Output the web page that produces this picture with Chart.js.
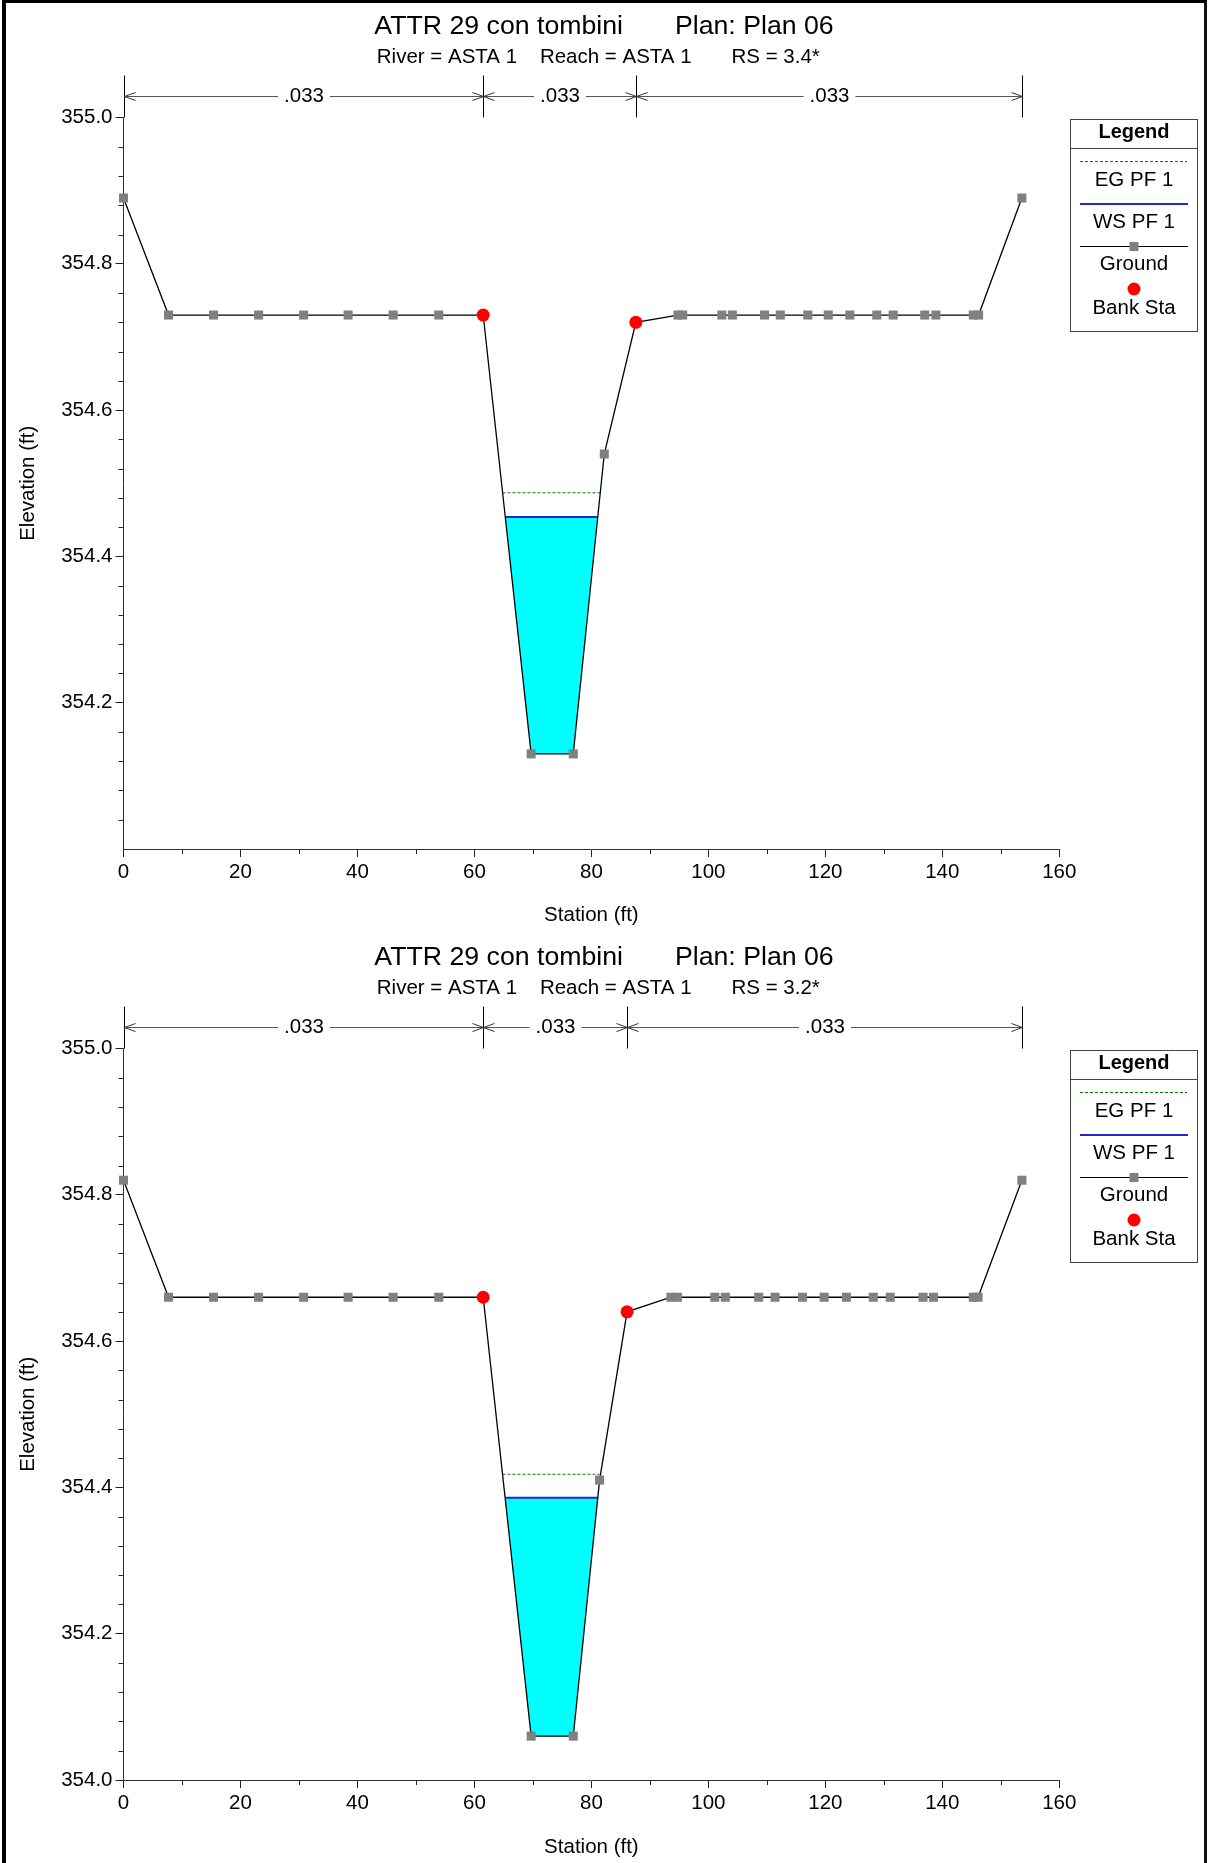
<!DOCTYPE html>
<html>
<head>
<meta charset="utf-8">
<script src="https://cdn.jsdelivr.net/npm/chart.js@4/dist/chart.umd.min.js"></script>
<style>
  html, body { margin: 0; padding: 0; background: #fff; }
  #page { position: relative; width: 1208px; height: 1863px; overflow: hidden; background: #fff; }
  #page canvas { position: absolute; left: 0; }
  #frame { position: absolute; left: 2px; top: 0; width: 1205px; height: 1863px; box-sizing: border-box;
           border-left: 4px solid #000; border-top: 3px solid #000; border-right: 3px solid #111; pointer-events: none; }
</style>
</head>
<body>
<div id="page">
  <canvas id="chartTop" width="1208" height="931" style="top:0px"></canvas>
  <canvas id="chartBottom" width="1208" height="932" style="top:931px"></canvas>
  <div id="frame"></div>
</div>
<script>
// ---------- shared texts and ticks ----------
const chartTitle = 'ATTR 29 con tombini       Plan: Plan 06';
const riverReachText = 'River = ASTA 1    Reach = ASTA 1       RS = ';
const xTickValues = [0, 20, 40, 60, 80, 100, 120, 140, 160];
const xMinorTickValues = [10, 30, 50, 70, 90, 110, 130, 150];
const yTickValues = [354.0, 354.2, 354.4, 354.6, 354.8, 355.0];
const legendLabels = ['EG PF 1', 'WS PF 1', 'Ground', 'Bank Sta'];
const xAxisTitle = 'Station (ft)';
const yAxisTitle = 'Elevation (ft)';

// ---------- cross section RS = 3.4* ----------
const rsTop = '3.4*';
const groundStaTop  = [0, 7.7, 15.4, 23.1, 30.8, 38.4, 46.1, 53.9, 61.5, 69.7, 76.9, 82.2, 87.6,
                       94.8, 95.6, 102.3, 104.1, 109.6, 112.3, 117.0, 120.5, 124.2, 128.8, 131.6, 137.0, 138.9, 145.3, 146.2, 153.6];
const groundElevTop = [354.89, 354.73, 354.73, 354.73, 354.73, 354.73, 354.73, 354.73, 354.73, 354.13, 354.13, 354.54, 354.72,
                       354.73, 354.73, 354.73, 354.73, 354.73, 354.73, 354.73, 354.73, 354.73, 354.73, 354.73, 354.73, 354.73, 354.73, 354.73, 354.89];
const bankStaTop  = [61.5, 87.6];
const bankElevTop = [354.73, 354.72];
const wsElevTop = 354.454;
const wsStaTop  = [65.3, 81.1];
const egElevTop = 354.487;
const egStaTop  = [64.8, 81.6];
const nStaTop   = [0, 61.5, 87.6, 153.6];
const nValTop   = ['.033', '.033', '.033'];

// ---------- cross section RS = 3.2* ----------
const rsBottom = '3.2*';
const groundStaBottom  = [0, 7.7, 15.4, 23.1, 30.8, 38.4, 46.1, 53.9, 61.5, 69.7, 76.9, 81.4, 86.1,
                          93.6, 94.7, 101.1, 102.9, 108.6, 111.4, 116.1, 119.8, 123.6, 128.2, 131.1, 136.7, 138.5, 145.3, 146.1, 153.6];
const groundElevBottom = [354.82, 354.66, 354.66, 354.66, 354.66, 354.66, 354.66, 354.66, 354.66, 354.06, 354.06, 354.41, 354.64,
                          354.66, 354.66, 354.66, 354.66, 354.66, 354.66, 354.66, 354.66, 354.66, 354.66, 354.66, 354.66, 354.66, 354.66, 354.66, 354.82];
const bankStaBottom  = [61.5, 86.1];
const bankElevBottom = [354.66, 354.64];
const wsElevBottom = 354.386;
const wsStaBottom  = [65.3, 81.1];
const egElevBottom = 354.418;
const egStaBottom  = [64.8, 81.4];
const nStaBottom   = [0, 61.5, 86.1, 153.6];
const nValBottom   = ['.033', '.033', '.033'];

// ---------- styling ----------
const FAMILY = "'Liberation Sans', Arial, Helvetica, sans-serif";
const COLOR_EG = '#008000';
const COLOR_WS = '#2424d8';
const COLOR_WATER = '#00ffff';
const COLOR_GROUND = '#000000';
const COLOR_POINT = '#808080';
const COLOR_BANK = '#ff0000';

Chart.defaults.font.family = FAMILY;
Chart.defaults.color = '#000';

function pairs(xs, ys) { return xs.map((x, i) => ({ x: x, y: ys[i] })); }
function flat(xs, y) { return xs.map(x => ({ x: x, y: y })); }

const decorPlugin = {
  id: 'decor',
  afterDraw(chart, args, opts) {
    const ctx = chart.ctx;
    const xs = chart.scales.x, ys = chart.scales.y;
    const area = chart.chartArea;
    ctx.save();

    // minor ticks
    ctx.strokeStyle = '#222';
    ctx.lineWidth = 1;
    ctx.beginPath();
    for (let i = 1; i < 25; i++) {
      if (i % 5 === 0) continue;
      const py = Math.round(ys.getPixelForValue(354 + i * 0.04)) + 0.5;
      ctx.moveTo(area.left - 5, py); ctx.lineTo(area.left, py);
    }
    xMinorTickValues.forEach(v => {
      const px = Math.round(xs.getPixelForValue(v)) + 0.5;
      ctx.moveTo(px, area.bottom); ctx.lineTo(px, area.bottom + 5);
    });
    ctx.stroke();

    // Manning's n bracket line
    const nTop = 75.5, nY = 96.5;
    const sta = opts.nSta, vals = opts.nVal;
    const pxs = sta.map(s => Math.round(xs.getPixelForValue(s)) + 0.5);
    ctx.strokeStyle = '#000';
    ctx.beginPath();
    pxs.forEach(px => { ctx.moveTo(px, nTop); ctx.lineTo(px, area.top); });
    ctx.stroke();

    ctx.font = '20.5px ' + FAMILY;
    ctx.textAlign = 'center';
    ctx.textBaseline = 'middle';
    ctx.fillStyle = '#000';
    ctx.strokeStyle = '#555';
    ctx.beginPath();
    for (let i = 0; i < vals.length; i++) {
      const x1 = pxs[i], x2 = pxs[i + 1];
      const mid = (x1 + x2) / 2;
      const w = ctx.measureText(vals[i]).width;
      ctx.moveTo(x1, nY); ctx.lineTo(mid - w / 2 - 6, nY);
      ctx.moveTo(mid + w / 2 + 6, nY); ctx.lineTo(x2, nY);
    }
    ctx.stroke();
    for (let i = 0; i < vals.length; i++) {
      ctx.fillText(vals[i], (pxs[i] + pxs[i + 1]) / 2, nY);
    }
    ctx.strokeStyle = '#333';
    ctx.beginPath();
    pxs.forEach((px, j) => {
      if (j < pxs.length - 1) { ctx.moveTo(px + 11, nY - 4); ctx.lineTo(px, nY); ctx.lineTo(px + 11, nY + 4); }
      if (j > 0) { ctx.moveTo(px - 11, nY - 4); ctx.lineTo(px, nY); ctx.lineTo(px - 11, nY + 4); }
    });
    ctx.stroke();

    // Legend box
    const bx0 = 1070.5, bx1 = 1197.5, by0 = 119.5, by1 = 331.5, cx = 1134;
    ctx.strokeStyle = '#444';
    ctx.lineWidth = 1;
    ctx.strokeRect(bx0, by0, bx1 - bx0, by1 - by0);
    ctx.beginPath(); ctx.moveTo(bx0, 148.5); ctx.lineTo(bx1, 148.5); ctx.stroke();
    ctx.fillStyle = '#000';
    ctx.font = 'bold 20px ' + FAMILY;
    ctx.fillText('Legend', cx, 132.5);
    ctx.font = '20.5px ' + FAMILY;
    // EG
    ctx.strokeStyle = COLOR_EG; ctx.setLineDash([3, 2]);
    ctx.beginPath(); ctx.moveTo(1080, 161.5); ctx.lineTo(1187, 161.5); ctx.stroke();
    ctx.setLineDash([]);
    ctx.fillText(legendLabels[0], cx, 180.5);
    // WS
    ctx.strokeStyle = COLOR_WS; ctx.lineWidth = 2;
    ctx.beginPath(); ctx.moveTo(1080, 204); ctx.lineTo(1188, 204); ctx.stroke();
    ctx.fillText(legendLabels[1], cx, 222);
    // Ground
    ctx.strokeStyle = COLOR_GROUND; ctx.lineWidth = 1.2;
    ctx.beginPath(); ctx.moveTo(1080, 246.5); ctx.lineTo(1188, 246.5); ctx.stroke();
    ctx.fillStyle = COLOR_POINT; ctx.fillRect(cx - 4.5, 242, 9, 9);
    ctx.fillStyle = '#000';
    ctx.fillText(legendLabels[2], cx, 264.5);
    // Bank
    ctx.fillStyle = COLOR_BANK;
    ctx.beginPath(); ctx.arc(cx, 289, 6.5, 0, Math.PI * 2); ctx.fill();
    ctx.fillStyle = '#000';
    ctx.fillText(legendLabels[3], cx, 308);

    ctx.restore();
  }
};

function makeChart(canvasId, cfg) {
  const datasets = [
    { label: 'Ground', data: pairs(cfg.groundSta, cfg.groundElev), yAxisID: 'y',
      borderColor: COLOR_GROUND, borderWidth: 1.3, pointStyle: 'rect', pointRadius: 6.4,
      pointBackgroundColor: COLOR_POINT, pointBorderWidth: 0, fill: false, tension: 0, clip: false, order: 1 },
    { label: 'WS PF 1', data: flat(cfg.wsSta, cfg.wsElev), yAxisID: 'y',
      borderColor: COLOR_WS, borderWidth: 2, pointRadius: 0, tension: 0, order: 3,
      fill: { target: 0, above: COLOR_WATER, below: 'rgba(0,0,0,0)' } },
    { label: 'EG PF 1', data: flat(cfg.egSta, cfg.egElev), yAxisID: 'y',
      borderColor: COLOR_EG, borderWidth: 1, borderDash: [3, 2], pointRadius: 0, fill: false, tension: 0, order: 2 },
    { label: 'Bank Sta', data: pairs(cfg.bankSta, cfg.bankElev), yAxisID: 'y',
      showLine: false, pointStyle: 'circle', pointRadius: 6.5, pointBackgroundColor: COLOR_BANK,
      pointBorderWidth: 0, fill: false, clip: false, order: 0 }
  ];
  return new Chart(document.getElementById(canvasId), {
    type: 'line',
    data: { datasets: datasets },
    plugins: [decorPlugin],
    options: {
      responsive: false,
      devicePixelRatio: 1,
      animation: false,
      events: [],
      layout: { padding: 0 },
      scales: {
        x: {
          type: 'linear', position: 'bottom', min: 0, max: 160,
          afterBuildTicks: s => { s.ticks = xTickValues.map(v => ({ value: v })); },
          afterFit: s => { s.height = cfg.xHeight; },
          ticks: { font: { size: 20.5 }, color: '#000', padding: 3, maxRotation: 0, autoSkip: false,
                   callback: v => String(v) },
          grid: { drawOnChartArea: false, drawTicks: true, tickLength: 8, tickColor: '#222', tickWidth: 1 },
          border: { display: true, color: '#333', width: 1 },
          title: { display: true, text: xAxisTitle, font: { size: 20.5 }, color: '#000', padding: { top: 0, bottom: 3.7 } }
        },
        y: {
          type: 'linear', position: 'left', min: 354.0, max: 355.0,
          afterBuildTicks: s => { s.ticks = yTickValues.map(v => ({ value: v })); },
          afterFit: s => { s.width = 123.5; },
          ticks: { font: { size: 20.5 }, color: '#000', padding: 3, autoSkip: false,
                   callback: v => (cfg.hideBottomLabel && Math.abs(v - 354) < 1e-6) ? '' : v.toFixed(1) },
          grid: { drawOnChartArea: false, drawTicks: true, tickLength: 8, tickWidth: 1,
                  tickColor: c => (cfg.hideBottomLabel && c.tick && Math.abs(c.tick.value - 354) < 1e-6) ? 'rgba(0,0,0,0)' : '#222' },
          border: { display: true, color: '#333', width: 1 },
          title: { display: true, text: yAxisTitle, font: { size: 20.5 }, color: '#000', padding: { top: 15.7, bottom: 0 } }
        },
        yR: {
          type: 'linear', position: 'right', display: true,
          grid: { display: false }, border: { display: false }, ticks: { display: false },
          afterFit: s => { s.width = 148.7; }
        }
      },
      plugins: {
        legend: { display: false },
        tooltip: { enabled: false },
        title: { display: true, text: chartTitle, color: '#000', font: { size: 26.7, weight: 'normal' },
                 padding: { top: 10.7, bottom: 0 } },
        subtitle: { display: true, text: riverReachText + cfg.rs + '  ', color: '#000', font: { size: 20.5 },
                    padding: { top: 2.5, bottom: 47.7 } },
        decor: { nSta: cfg.nSta, nVal: cfg.nVal }
      }
    }
  });
}

makeChart('chartTop', {
  rs: rsTop, groundSta: groundStaTop, groundElev: groundElevTop, bankSta: bankStaTop, bankElev: bankElevTop,
  wsSta: wsStaTop, wsElev: wsElevTop, egSta: egStaTop, egElev: egElevTop, nSta: nStaTop, nVal: nValTop,
  hideBottomLabel: true, xHeight: 82
});
makeChart('chartBottom', {
  rs: rsBottom, groundSta: groundStaBottom, groundElev: groundElevBottom, bankSta: bankStaBottom, bankElev: bankElevBottom,
  wsSta: wsStaBottom, wsElev: wsElevBottom, egSta: egStaBottom, egElev: egElevBottom, nSta: nStaBottom, nVal: nValBottom,
  hideBottomLabel: false, xHeight: 83
});
</script>
</body>
</html>
